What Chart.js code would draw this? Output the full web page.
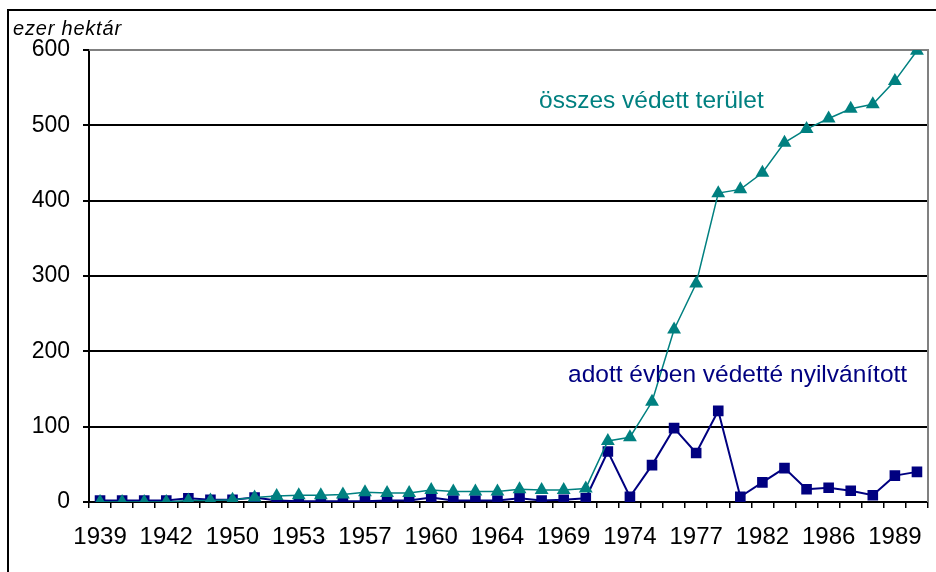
<!DOCTYPE html>
<html>
<head>
<meta charset="utf-8">
<script src="https://cdn.jsdelivr.net/npm/chart.js@4"></script>
<style>
  html, body { margin: 0; padding: 0; background: #fff; }
  #wrap { width: 936px; height: 572px; position: relative; }
</style>
</head>
<body>
<div id="wrap"><canvas id="areaChart" width="936" height="572"></canvas></div>
<script>
// ==== DATA ====
const years = [1939, 1940, 1941, 1942, 1945, 1948, 1950, 1951, 1952, 1953,
  1954, 1956, 1957, 1958, 1959, 1960, 1961, 1962, 1964, 1966,
  1968, 1969, 1970, 1972, 1974, 1975, 1976, 1977, 1978, 1979,
  1982, 1983, 1984, 1986, 1987, 1988, 1989, 1990];

// összes védett terület (ezer ha)
const osszes = [0, 0, 0, 0, 2, 2, 3, 6, 8, 9,
  9, 10, 13, 12, 12, 16, 14, 14, 14, 17,
  16, 16, 18, 81, 86, 133, 229, 290, 410, 415,
  437, 477, 495, 509, 522, 528, 559, 599];

// adott évben védetté nyilvánított (ezer ha)
const adott = [2, 2, 2, 2, 5, 3, 3, 6, 2, 1,
  1, 1, 1, 2, 2, 6, 2, 2, 2, 5,
  2, 3, 5, 67, 7, 49, 98, 65, 121, 7,
  26, 45, 17, 19, 15, 9, 35, 40];

const yTicks = [0, 100, 200, 300, 400, 500, 600];

const TEAL = '#008080';
const NAVY = '#000080';
const FONT = 'Arial, "Liberation Sans", sans-serif';

// ==== EXTRA DRAWING (frame, titles, labels) ====
const decorPlugin = {
  id: 'decor',
  beforeDatasetsDraw(chart) {
    const { ctx, chartArea } = chart;
    ctx.save();
    ctx.strokeStyle = '#808080';
    ctx.lineWidth = 2;
    ctx.beginPath();
    ctx.moveTo(chartArea.left, chartArea.top);
    ctx.lineTo(chartArea.right, chartArea.top);
    ctx.lineTo(chartArea.right, chartArea.bottom);
    ctx.stroke();
    ctx.restore();
  },
  afterDraw(chart) {
    const { ctx } = chart;
    ctx.save();
    // outer frame
    ctx.strokeStyle = '#000';
    ctx.lineWidth = 2;
    ctx.strokeRect(8, 10, 940, 600);

    ctx.textBaseline = 'alphabetic';
    ctx.textAlign = 'left';
    ctx.fillStyle = '#000';
    ctx.font = 'italic 20px ' + FONT;
    ctx.letterSpacing = '0.8px';
    ctx.fillText('ezer hektár', 13, 35);
    ctx.letterSpacing = '0px';

    ctx.font = '24.5px ' + FONT;
    ctx.fillStyle = TEAL;
    ctx.fillText('összes védett terület', 539, 108);
    ctx.fillStyle = NAVY;
    ctx.fillText('adott évben védetté nyilvánított', 568, 382);
    ctx.restore();
  }
};

const ctx = document.getElementById('areaChart').getContext('2d');
new Chart(ctx, {
  type: 'line',
  data: {
    labels: years,
    datasets: [
      {
        label: 'összes védett terület',
        data: osszes,
        borderColor: TEAL,
        backgroundColor: TEAL,
        borderWidth: 1.5,
        pointStyle: 'triangle',
        pointRadius: 8,
        pointBorderWidth: 0,
        tension: 0
      },
      {
        label: 'adott évben védetté nyilvánított',
        data: adott,
        borderColor: NAVY,
        backgroundColor: NAVY,
        borderWidth: 2,
        pointStyle: 'rect',
        pointRadius: 7.5,
        pointBorderWidth: 0,
        tension: 0
      }
    ]
  },
  options: {
    responsive: false,
    animation: false,
    layout: { padding: { top: 50, right: 6, bottom: 0, left: 0 } },
    plugins: {
      legend: { display: false },
      tooltip: { enabled: false }
    },
    scales: {
      x: {
        offset: true,
        grid: {
          offset: true,
          drawOnChartArea: false,
          color: '#000',
          lineWidth: 1.5,
          tickLength: 6
        },
        border: { display: true, color: '#000', width: 2 },
        ticks: {
          autoSkip: false,
          maxRotation: 0,
          color: '#000',
          font: { family: FONT, size: 24 },
          padding: 15,
          callback: (v, i) => (i % 3 === 0 ? String(years[i]) : '')
        },
        afterFit: (scale) => { scale.height = 70; }
      },
      y: {
        min: 0,
        max: 600,
        afterBuildTicks: (scale) => { scale.ticks = yTicks.map(v => ({ value: v })); },
        grid: {
          color: '#000',
          lineWidth: 2,
          tickLength: 6
        },
        border: { display: true, color: '#000', width: 2 },
        ticks: {
          color: '#000',
          font: { family: FONT, size: 23 },
          padding: 13
        },
        afterFit: (scale) => { scale.width = 89; }
      }
    }
  },
  plugins: [decorPlugin]
});
</script>
</body>
</html>
